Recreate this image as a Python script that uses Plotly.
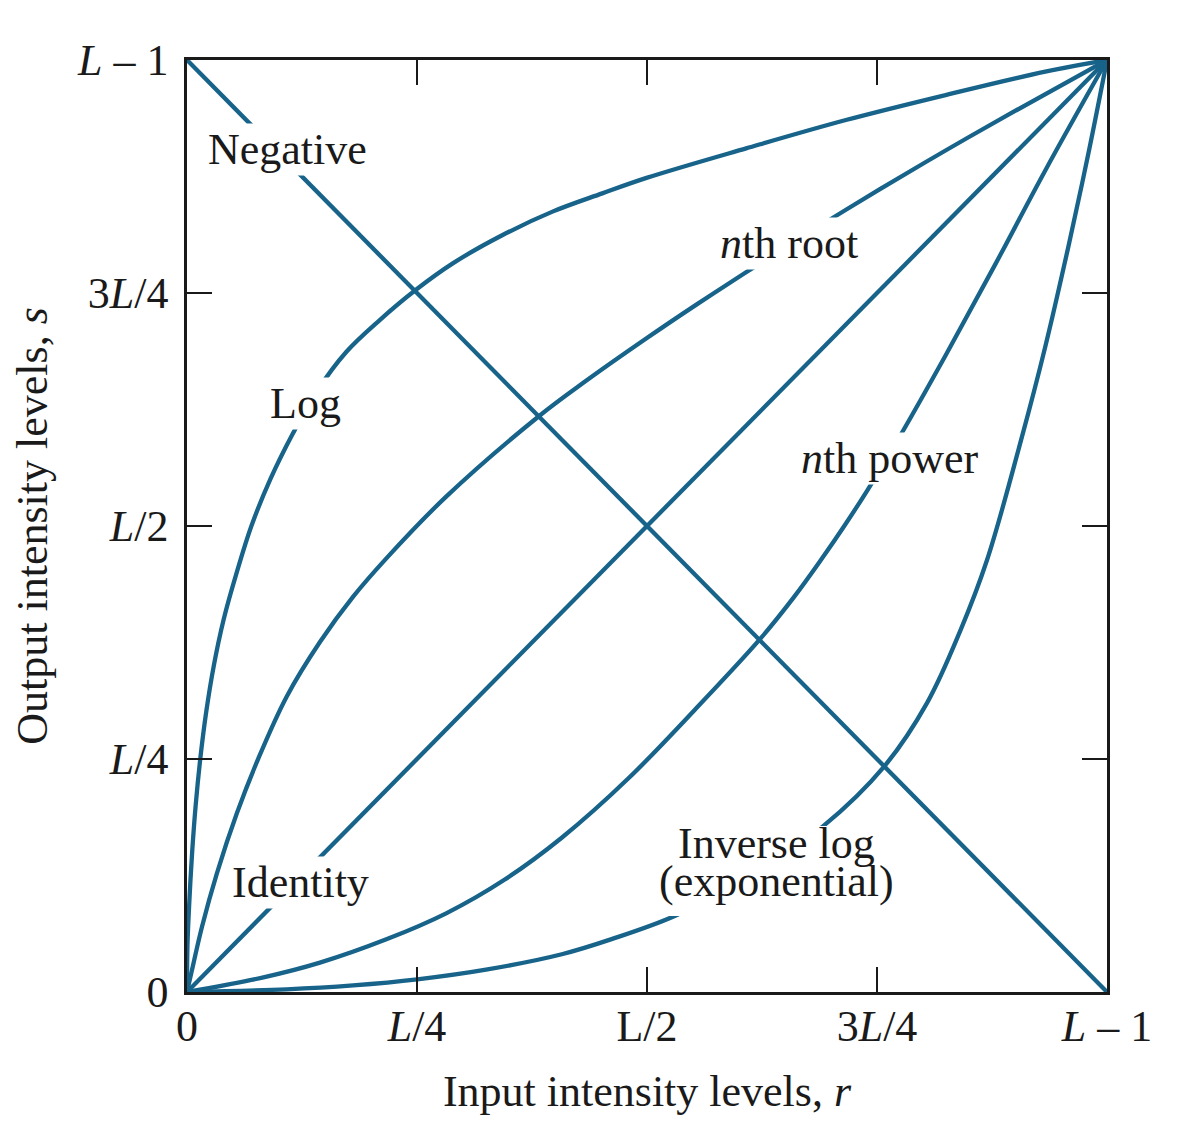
import plotly.graph_objects as go

# input / output levels normalised so that 0 -> 0 and 1 -> L-1
tick_vals = [0, 0.25, 0.5, 0.75, 1]
x_tick_text = ['0', '<i>L</i>/4', 'L/2', '3<i>L</i>/4', '<i>L</i> \u2013 1']
y_tick_text = ['0', '<i>L</i>/4', '<i>L</i>/2', '3<i>L</i>/4', '<i>L</i> \u2013 1']

identity_r = [0, 1]
identity_s = [0, 1]

negative_r = [0, 1]
negative_s = [1, 0]

log_r = [0, 0.0005, 0.0027, 0.0056, 0.0094, 0.0144, 0.0208, 0.0291, 0.0399, 0.054, 0.070,
         0.0905, 0.1155, 0.1408, 0.1733, 0.2095, 0.2485, 0.2889, 0.3431, 0.3973, 0.4514,
         0.4995, 0.6078, 0.7162, 0.8245, 0.9329, 1]
log_s = [0, 0.05, 0.10, 0.15, 0.20, 0.25, 0.30, 0.35, 0.40, 0.45, 0.50,
         0.55, 0.60, 0.6441, 0.687, 0.721, 0.7532, 0.7818, 0.8122, 0.8373, 0.8569,
         0.8735, 0.9052, 0.9356, 0.9624, 0.9875, 1]

root_r = [0, 0.0054, 0.0163, 0.0325, 0.0542, 0.0776, 0.1083, 0.1445, 0.1806, 0.2167, 0.2817,
          0.3821, 0.4334, 0.4995, 0.5537, 0.606, 0.6747, 0.7523, 0.8245, 0.8967, 1]
root_s = [0, 0.0236, 0.0701, 0.1273, 0.1917, 0.2507, 0.3169, 0.3755, 0.4242, 0.4653, 0.5315,
          0.6175, 0.6555, 0.7014, 0.7375, 0.7712, 0.8141, 0.8609, 0.9029, 0.9435, 1]

power_r = [0, 0.0831, 0.1445, 0.2167, 0.2817, 0.345, 0.4073, 0.4796, 0.5518, 0.623, 0.6601,
           0.689, 0.7144, 0.7397, 0.7704, 0.8245, 0.8787, 0.9329, 1]
power_s = [0, 0.0157, 0.0315, 0.0565, 0.0844, 0.1204, 0.1655, 0.229, 0.3026, 0.3788, 0.4242,
           0.4635, 0.5, 0.5386, 0.5887, 0.683, 0.781, 0.8815, 1]

invlog_r = [0, 0.1083, 0.1806, 0.2503, 0.325, 0.4074, 0.4615, 0.5301, 0.61, 0.6909, 0.7577,
            0.8046, 0.8407, 0.8696, 0.9076, 0.9329, 0.958, 0.9798, 1]
invlog_s = [0, 0.0029, 0.0071, 0.0136, 0.024, 0.0405, 0.0567, 0.0815, 0.123, 0.1774, 0.2418,
            0.3105, 0.388, 0.4635, 0.5959, 0.6924, 0.7997, 0.8999, 1]

labels = ['Negative', 'Log', '<i>n</i>th root', '<i>n</i>th power', 'Identity',
          'Inverse log', '(exponential)']
label_r = [0.1089, 0.1284, 0.6538, 0.7644, 0.123, 0.6403, 0.6403]
label_s = [0.9039, 0.631, 0.8027, 0.572, 0.1177, 0.1589, 0.1188]
label_box = [True, True, True, True, True, False, False]

LINE_COLOR = '#17638a'
TEXT_COLOR = '#1a1a1a'
FONT = 'Liberation Serif'
FONT_SIZE = 44

curves = [
    (identity_r, identity_s, 'linear'),
    (negative_r, negative_s, 'linear'),
    (log_r, log_s, 'spline'),
    (root_r, root_s, 'spline'),
    (power_r, power_s, 'spline'),
    (invlog_r, invlog_s, 'spline'),
]

traces = [
    go.Scatter(x=r, y=s, mode='lines',
               line=dict(color=LINE_COLOR, width=4.3, shape=shape, smoothing=1.0),
               showlegend=False, hoverinfo='skip')
    for r, s, shape in curves
]

# white boxes behind the labels break the curves like in the original figure
annotations = [
    dict(x=x, y=y, text=t, showarrow=False, borderpad=1,
         bgcolor='white' if boxed else 'rgba(0,0,0,0)',
         font=dict(family=FONT, size=FONT_SIZE, color=TEXT_COLOR))
    for t, x, y, boxed in zip(labels, label_r, label_s, label_box)
]

# the two-line label gets one white patch so its lines can sit close together
shapes = [
    dict(type='rect', xref='x', yref='y', x0=0.505, x1=0.776, y0=0.0815, y1=0.178,
         fillcolor='white', line=dict(width=0), layer='above'),
]

axis_common = dict(
    range=[0, 1],
    tickvals=tick_vals,
    ticks='inside',
    ticklen=25,
    tickwidth=2,
    tickcolor=TEXT_COLOR,
    showline=True,
    linecolor=TEXT_COLOR,
    linewidth=2.5,
    mirror='ticks',
    showgrid=False,
    zeroline=False,
    tickfont=dict(family=FONT, size=FONT_SIZE, color=TEXT_COLOR),
)

layout = go.Layout(
    width=1166,
    height=1128,
    margin=dict(l=176, r=67, t=52, b=144),
    plot_bgcolor='white',
    paper_bgcolor='white',
    xaxis=dict(axis_common, ticktext=x_tick_text, ticklabelstandoff=-7,
               title=dict(text='Input intensity levels, <i>r</i>', standoff=26,
                          font=dict(family=FONT, size=FONT_SIZE, color=TEXT_COLOR))),
    yaxis=dict(axis_common, ticktext=y_tick_text, ticklabelstandoff=7,
               title=dict(text='Output intensity levels, <i>s</i>', standoff=26,
                          font=dict(family=FONT, size=FONT_SIZE, color=TEXT_COLOR))),
    annotations=annotations,
    shapes=shapes,
)

fig = go.Figure(traces, layout=layout)
fig.write_html('out.html')
